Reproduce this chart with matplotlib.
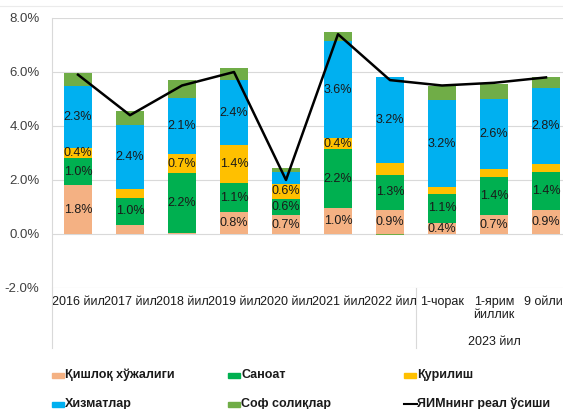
import numpy as np
import matplotlib.pyplot as plt
from matplotlib.patches import Rectangle
from matplotlib.lines import Line2D
from matplotlib.transforms import blended_transform_factory

plt.rcParams['font.family'] = ['Liberation Sans', 'DejaVu Sans']

# categories
cats = ['2016 йил', '2017 йил', '2018 йил', '2019 йил', '2020 йил', '2021 йил',
        '2022 йил', '1-чорак', '1-ярим\nйиллик', '9 ойлик']
group_label = '2023 йил'

# contributions to GDP growth, p.p.
agri = [1.8, 0.35, 0.05, 0.8, 0.7, 0.95, 0.9, 0.4, 0.7, 0.9]
industry = [1.0, 1.0, 2.2, 1.1, 0.6, 2.2, 1.3, 1.1, 1.4, 1.4]
constr = [0.4, 0.3, 0.7, 1.4, 0.55, 0.4, 0.43, 0.25, 0.3, 0.3]
services = [2.3, 2.4, 2.1, 2.4, 0.45, 3.6, 3.2, 3.2, 2.6, 2.8]
net_tax = [0.45, 0.5, 0.65, 0.45, 0.15, 0.35, -0.05, 0.55, 0.55, 0.4]
gdp = [5.9, 4.4, 5.5, 6.0, 2.0, 7.4, 5.7, 5.5, 5.6, 5.8]

# data labels shown on the chart
agri_lbl = ['1.8%', '', '', '0.8%', '0.7%', '1.0%', '0.9%', '0.4%', '0.7%', '0.9%']
industry_lbl = ['1.0%', '1.0%', '2.2%', '1.1%', '0.6%', '2.2%', '1.3%', '1.1%', '1.4%', '1.4%']
constr_lbl = ['0.4%', '', '0.7%', '1.4%', '0.6%', '0.4%', '', '', '', '']
services_lbl = ['2.3%', '2.4%', '2.1%', '2.4%', '', '3.6%', '3.2%', '3.2%', '2.6%', '2.8%']

names = ['Қишлоқ хўжалиги', 'Саноат', 'Қурилиш', 'Хизматлар', 'Соф солиқлар',
         'ЯИМнинг реал ўсиши']
colors = ['#F4B183', '#00B050', '#FFC000', '#00B0F0', '#70AD47']

fig = plt.figure(figsize=(5.63, 4.09), dpi=100)
ax = fig.add_axes([52/563, 1-288/409, 520/563, 270/409])

x = np.arange(len(cats))
w = 0.54
pos_base = np.zeros(len(cats))
neg_base = np.zeros(len(cats))
series = [agri, industry, constr, services, net_tax]
labels = [agri_lbl, industry_lbl, constr_lbl, services_lbl, None]
for vals, col, lbls in zip(series, colors, labels):
    vals = np.array(vals)
    base = np.where(vals >= 0, pos_base, neg_base)
    ax.bar(x, vals, w, bottom=base, color=col, zorder=2)
    if lbls is not None:
        for xi, b, v, t in zip(x, base, vals, lbls):
            if t:
                ax.text(xi, b + v/2, t, ha='center', va='center', fontsize=9,
                        color='#1a1a1a', zorder=4)
    pos_base = np.where(vals >= 0, pos_base + vals, pos_base)
    neg_base = np.where(vals < 0, neg_base + vals, neg_base)

ax.plot(x, gdp, color='black', lw=1.8, zorder=3)

ax.set_xlim(-0.5, len(cats) - 0.5)
ax.set_ylim(-2, 8)
ax.set_yticks(np.arange(-2, 8.1, 2))
ax.set_yticklabels([f'{v:.1f}%' for v in np.arange(-2, 8.1, 2)], fontsize=9.5,
                   color='#404040')
ax.set_xticks(x)
ax.set_xticklabels(cats, fontsize=9, color='#1a1a1a', linespacing=1.1)
ax.tick_params(length=0)
ax.tick_params(axis='y', pad=9)
ax.tick_params(axis='x', pad=6)
ax.grid(axis='y', color='#D9D9D9', lw=0.8, zorder=0)
for s in ['top', 'right', 'bottom']:
    ax.spines[s].set_visible(False)
ax.spines['left'].set_color('#D9D9D9')

# category separators below the axis
tr = blended_transform_factory(ax.transData, ax.transAxes)
for xs in [-0.5, 6.5]:
    ax.add_line(Line2D([xs, xs], [0, -60/270], transform=tr, color='#D9D9D9',
                       lw=0.8, clip_on=False))
ax.text(8, -54/270, group_label, transform=tr, ha='center', va='center',
        fontsize=9, color='#1a1a1a')

# top border
fig.add_artist(Line2D([0, 1], [1-6/409, 1-6/409], color='#EBEBEB', lw=0.8))

# legend
leg_x = [52, 228, 404]
leg_y = [375, 404]
for i, name in enumerate(names):
    r, c = divmod(i, 3)
    px = leg_x[c] / 563
    py = 1 - leg_y[r] / 409
    if i < 5:
        fig.add_artist(Rectangle((px, py - 2.5/409), 12/563, 5/409,
                                 color=colors[i], transform=fig.transFigure))
    else:
        fig.add_artist(Line2D([px, px + 13/563], [py, py], color='black', lw=1.5))
    fig.text(px + 13/563, py, name, ha='left', va='center', fontsize=9,
             fontweight='bold', color='#1a1a1a')

fig.savefig('out.png', dpi=100)
